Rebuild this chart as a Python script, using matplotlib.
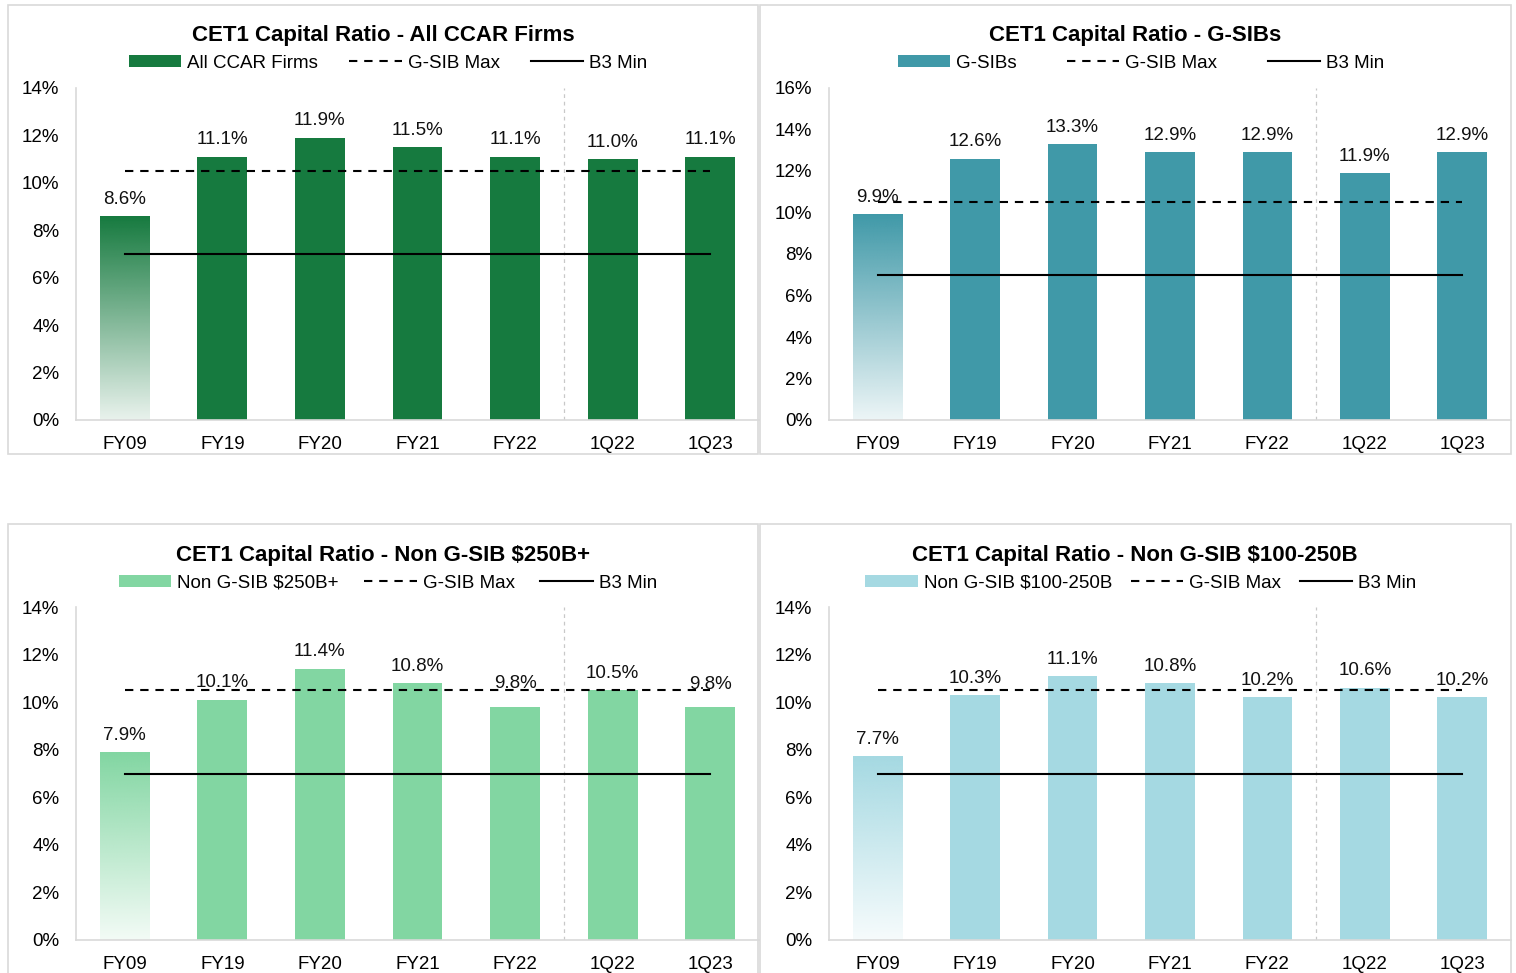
import numpy as np
import matplotlib
matplotlib.use('Agg')
import matplotlib.pyplot as plt
from matplotlib.patches import Rectangle, Patch
from matplotlib.lines import Line2D
from matplotlib.colors import to_rgb

plt.rcParams['font.family'] = ['Liberation Sans', 'DejaVu Sans']

# data
categories = ['FY09', 'FY19', 'FY20', 'FY21', 'FY22', '1Q22', '1Q23']
all_ccar = [8.6, 11.1, 11.9, 11.5, 11.1, 11.0, 11.1]
gsibs = [9.9, 12.6, 13.3, 12.9, 12.9, 11.9, 12.9]
non_gsib_250 = [7.9, 10.1, 11.4, 10.8, 9.8, 10.5, 9.8]
non_gsib_100_250 = [7.7, 10.3, 11.1, 10.8, 10.2, 10.6, 10.2]
gsib_max = 10.5
b3_min = 7.0

titles = ['CET1 Capital Ratio - All CCAR Firms', 'CET1 Capital Ratio - G-SIBs',
          'CET1 Capital Ratio - Non G-SIB $250B+', 'CET1 Capital Ratio - Non G-SIB $100-250B']
series_names = ['All CCAR Firms', 'G-SIBs', 'Non G-SIB $250B+', 'Non G-SIB $100-250B']
series = [all_ccar, gsibs, non_gsib_250, non_gsib_100_250]
y_tops = [14, 16, 14, 14]

# styles
colors = ['#167A3F', '#4099A8', '#82D6A2', '#A5D9E2']
W, H = 1516, 973
# axes boxes in pixels: left, right, top(ymax), bottom(0)
ax_px = [(76, 759, 88, 420), (829, 1511, 88, 420), (76, 759, 607, 940), (829, 1511, 607, 940)]
frames_px = [(8, 758, 5, 454), (760, 1511, 5, 454), (8, 758, 524, 1000), (760, 1511, 524, 1000)]
title_px = [(383, 35), (1135, 35), (383, 555), (1135, 555)]
legend_px = [(388, 63), (1141, 63), (388, 583), (1141, 583)]
col_space = [1.65, 2.67, 1.36, 0.99]
label_lift = {(2, 4): 5, (2, 6): 4}

fig = plt.figure(figsize=(W / 100, H / 100), dpi=100)

for i in range(4):
    # panel frame
    fx0, fx1, fy0, fy1 = frames_px[i]
    fig.patches.append(Rectangle((fx0 / W, 1 - fy1 / H), (fx1 - fx0) / W, (fy1 - fy0) / H,
                                 transform=fig.transFigure, fill=False,
                                 edgecolor='#D9D9D9', lw=1.2))
    l, r, t, b = ax_px[i]
    ax = fig.add_axes([l / W, 1 - b / H, (r - l) / W, (b - t) / H])
    vals = series[i]
    x = np.arange(len(categories))
    c = colors[i]
    ax.bar(x[1:], vals[1:], width=0.51, color=c, zorder=2)
    # FY09 bar with fading gradient
    rgb = to_rgb(c)
    grad = np.zeros((100, 1, 4))
    grad[:, 0, :3] = rgb
    grad[:, 0, 3] = np.linspace(1.0, 0.1, 100)
    ax.imshow(grad, extent=(x[0] - 0.255, x[0] + 0.255, 0, vals[0]),
              aspect='auto', origin='upper', zorder=2, interpolation='bilinear')

    ax.axvline(4.5, color='#C8C8C8', lw=0.9, ls=(0, (3, 3)), zorder=1)
    ax.plot(x, [gsib_max] * len(x), color='black', lw=1.5, ls=(0, (4, 3.3)), zorder=4)
    ax.plot(x, [b3_min] * len(x), color='black', lw=1.5, zorder=4)

    for j, v in enumerate(vals):
        ax.annotate('%.1f%%' % v, (x[j], v), xytext=(0, 12.2 + label_lift.get((i, j), 0)),
                    textcoords='offset points', ha='center', va='center',
                    fontsize=13.5, color='#111111', zorder=3)

    ax.set_xlim(-0.5, 6.5)
    ax.set_ylim(0, y_tops[i])
    ax.set_yticks(range(0, y_tops[i] + 1, 2))
    ax.set_yticklabels(['%d%%' % v for v in range(0, y_tops[i] + 1, 2)])
    ax.set_xticks(x)
    ax.set_xticklabels(categories)
    ax.tick_params(length=0, labelsize=13.5, labelcolor='black')
    ax.tick_params(axis='y', pad=12)
    ax.tick_params(axis='x', pad=11.5)
    for s in ['top', 'right']:
        ax.spines[s].set_visible(False)
    for s in ['left', 'bottom']:
        ax.spines[s].set_color('#D9D9D9')
        ax.spines[s].set_linewidth(1.2)

    tx, ty = title_px[i]
    fig.text(tx / W, 1 - ty / H, titles[i], ha='center', va='center',
             fontsize=16, fontweight='bold')
    handles = [Patch(facecolor=c, edgecolor='none', label=series_names[i]),
               Line2D([], [], color='black', lw=1.5, ls=(0, (4, 3.3)), label='G-SIB Max'),
               Line2D([], [], color='black', lw=1.5, label='B3 Min')]
    lx, ly = legend_px[i]
    fig.legend(handles=handles, loc='center', bbox_to_anchor=(lx / W, 1 - ly / H),
               ncol=3, frameon=False, fontsize=13.5, handlelength=2.8,
               handleheight=0.55, handletextpad=0.32, columnspacing=col_space[i],
               borderpad=0, borderaxespad=0)

fig.savefig('out.png', dpi=100)
